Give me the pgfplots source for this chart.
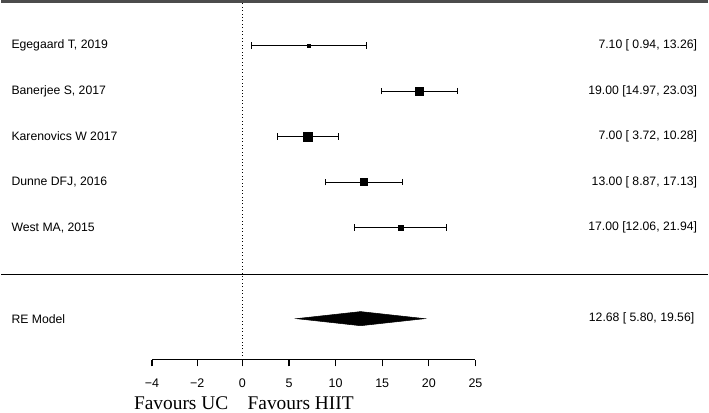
\documentclass[border=0pt]{standalone}
\usepackage{pgfplots}
\pgfplotsset{compat=1.18}
\usepackage{fontspec}
\setmainfont{Liberation Sans}
\newfontfamily\timesfont{Liberation Serif}

\pgfplotsset{
  study/.style={
    black, only marks, mark=square*, mark size=#1,
    mark options={fill=black, draw=none},
    error bars/.cd, x dir=both, x explicit,
      error mark=|,
      error bar style={line width=0.75pt, black},
      error mark options={black, mark size=2.5pt, line width=0.75pt},
  },
}

\begin{document}
\begin{tikzpicture}
\begin{axis}[
  x=7.02pt, y=34.275pt,
  xmin=-9.7, xmax=25, ymin=1.1, ymax=8.97,
  clip=false,
  axis x line*=bottom,
  axis y line=none,
  x axis line style={line width=0.8pt},
  xtick={-9.7,-4.85,0,5,10,15,20,25},
  xticklabels={−4,−2,0,5,10,15,20,25},
  tick align=outside,
  major tick length=5pt,
  tick style={line width=0.8pt, black},
  ticklabel style={font=\fontsize{9.4}{11}\selectfont},
  /pgf/number format/assume math mode=true,
  xticklabel shift=6pt,
]
  % frame lines across the whole width
  \addplot[gray!60!black, line width=2.2pt] coordinates {(-25.85,8.97) (49.9,8.97)};
  \addplot[black, line width=0.8pt] coordinates {(-25.85,2.97) (49.9,2.97)};
  % reference line at 0
  \addplot[black, dotted, line width=0.6pt] coordinates {(0,1.1) (0,8.97)};

  % studies: estimate, row, CI half width
  \addplot[study=0.9pt] coordinates {(7.10,8) +- (6.16,0)};
  \addplot[study=2.9pt] coordinates {(19.00,7) +- (4.03,0)};
  \addplot[study=3.3pt] coordinates {(7.00,6) +- (3.28,0)};
  \addplot[study=2.7pt] coordinates {(13.00,5) +- (4.13,0)};
  \addplot[study=2.0pt] coordinates {(17.00,4) +- (4.94,0)};

  % RE model diamond
  \addplot[black, fill=black] coordinates {(5.80,2) (12.68,2.155) (19.56,2) (12.68,1.845)} -- cycle;

  \begin{scope}[every node/.style={font=\fontsize{9.2}{11}\selectfont, inner sep=0pt}]
    \node[anchor=west] at (axis cs:-24.8,8) {Egegaard T, 2019};
    \node[anchor=west] at (axis cs:-24.8,7) {Banerjee S, 2017};
    \node[anchor=west] at (axis cs:-24.8,6) {Karenovics W 2017};
    \node[anchor=west] at (axis cs:-24.8,5) {Dunne DFJ, 2016};
    \node[anchor=west] at (axis cs:-24.8,4) {West MA, 2015};
    \node[anchor=west] at (axis cs:-24.8,2) {RE Model};
    \node[anchor=east] at (axis cs:48.8,8) {7.10 [ 0.94, 13.26]};
    \node[anchor=east] at (axis cs:48.8,7) {19.00 [14.97, 23.03]};
    \node[anchor=east] at (axis cs:48.8,6) {7.00 [ 3.72, 10.28]};
    \node[anchor=east] at (axis cs:48.8,5) {13.00 [ 8.87, 17.13]};
    \node[anchor=east] at (axis cs:48.8,4) {17.00 [12.06, 21.94]};
    \node[anchor=east] at (axis cs:48.5,2) {12.68 [ 5.80, 19.56]};
  \end{scope}
  \node[font=\timesfont\fontsize{14.6}{16}\selectfont, inner sep=2pt] at (axis cs:-6.57,0.15) {Favours UC};
  \node[font=\timesfont\fontsize{14.6}{16}\selectfont, inner sep=2pt] at (axis cs:6.25,0.15) {Favours HIIT};
\end{axis}
\end{tikzpicture}
\end{document}
